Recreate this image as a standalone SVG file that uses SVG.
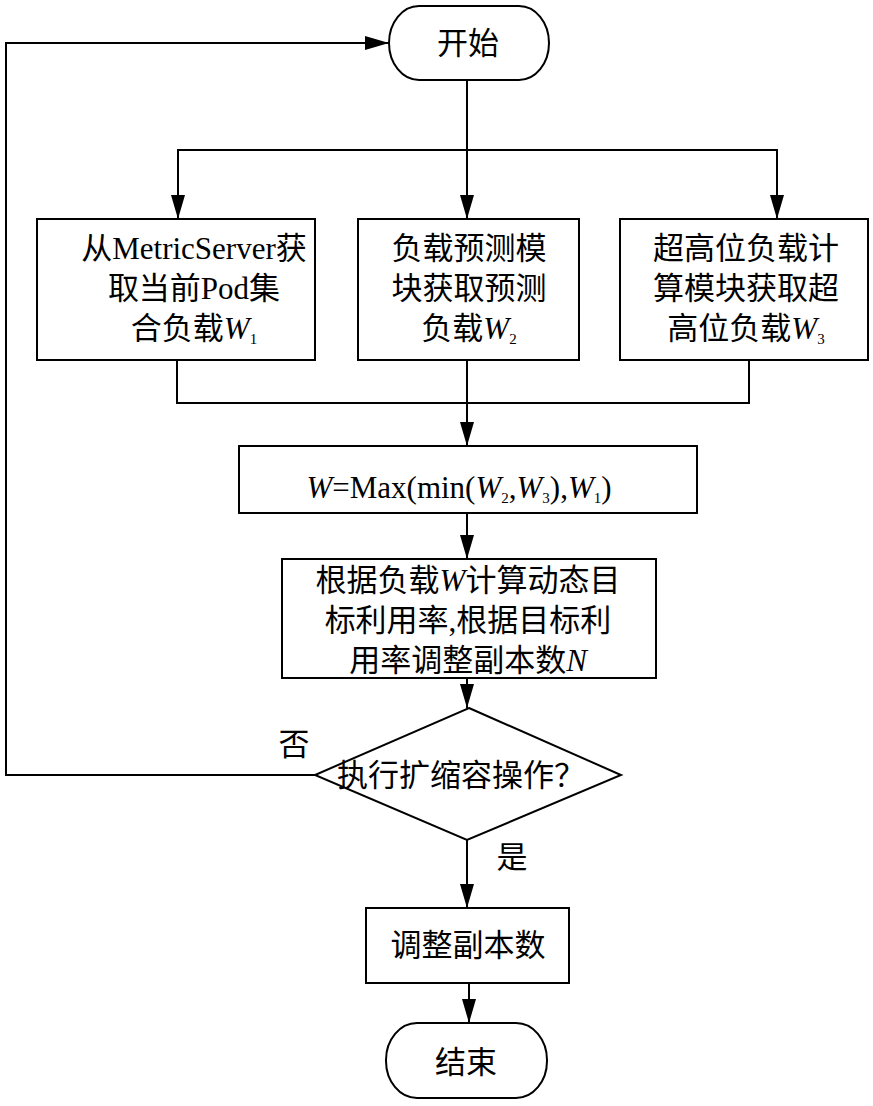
<svg xmlns="http://www.w3.org/2000/svg" width="873" height="1106" viewBox="0 0 873 1106">
<style>
.box{fill:#fff;stroke:#000;stroke-width:2}
.ln{fill:none;stroke:#000;stroke-width:2}
.t{font-family:'Liberation Serif','Noto Sans CJK SC',serif;font-size:31px;fill:#000;text-anchor:middle}
.s{font-family:'Noto Sans CJK SC','Liberation Sans',sans-serif;font-size:31px;fill:#000;text-anchor:middle}
.i{font-style:italic}
.sub{font-size:15px}
</style>
<defs>
<marker id="arr" markerUnits="userSpaceOnUse" markerWidth="24" markerHeight="14" refX="24" refY="7" orient="auto">
<path d="M0,0 L24,7 L0,14 z" fill="#000"/>
</marker>
</defs>
<g id="connectors">
<polyline class="ln" points="315,775 6,775 6,43 389,43" marker-end="url(#arr)"/>
<line class="ln" x1="467" y1="80" x2="467" y2="219" marker-end="url(#arr)"/>
<polyline class="ln" points="178,219 178,150 777,150 777,219" marker-end="url(#arr)"/>
<line class="ln" x1="178" y1="150" x2="178" y2="219" marker-end="url(#arr)"/>
<polyline class="ln" points="177,360 177,403 749,403 749,360"/>
<line class="ln" x1="467" y1="360" x2="467" y2="446" marker-end="url(#arr)"/>
<line class="ln" x1="467" y1="513" x2="467" y2="559" marker-end="url(#arr)"/>
<line class="ln" x1="467" y1="678" x2="467" y2="708" marker-end="url(#arr)"/>
<line class="ln" x1="467" y1="840" x2="467" y2="908" marker-end="url(#arr)"/>
<line class="ln" x1="469" y1="983" x2="469" y2="1023" marker-end="url(#arr)"/>
<text class="s" x="294" y="755">否</text>
<text class="s" x="512" y="868">是</text>
</g>
<g id="start">
<rect class="box" x="389" y="6" width="160" height="74" rx="30" ry="37"/>
<text class="s" x="468" y="54">开始</text>
</g>
<g id="box1">
<rect class="box" x="37" y="219" width="278" height="141"/>
<text class="t" x="194" y="259">从MetricServer获</text>
<text class="t" x="194" y="299">取当前Pod集</text>
<text class="t" x="194" y="339">合负载<tspan class="i">W</tspan><tspan class="sub" dy="5">1</tspan></text>
</g>
<g id="box2">
<rect class="box" x="358" y="219" width="221" height="141"/>
<text class="t" x="469" y="259">负载预测模</text>
<text class="t" x="469" y="299">块获取预测</text>
<text class="t" x="469" y="339">负载<tspan class="i">W</tspan><tspan class="sub" dy="5">2</tspan></text>
</g>
<g id="box3">
<rect class="box" x="620" y="219" width="248" height="141"/>
<text class="t" x="746" y="259">超高位负载计</text>
<text class="t" x="746" y="299">算模块获取超</text>
<text class="t" x="746" y="339">高位负载<tspan class="i">W</tspan><tspan class="sub" dy="5">3</tspan></text>
</g>
<g id="formula">
<rect class="box" x="239" y="446" width="458" height="67"/>
<text class="t" x="459" y="498"><tspan class="i">W</tspan>=Max(min(<tspan class="i">W</tspan><tspan class="sub" dy="5">2</tspan><tspan dy="-5">,</tspan><tspan class="i">W</tspan><tspan class="sub" dy="5">3</tspan><tspan dy="-5">),</tspan><tspan class="i">W</tspan><tspan class="sub" dy="5">1</tspan><tspan dy="-5">)</tspan></text>
</g>
<g id="compute">
<rect class="box" x="282" y="559" width="374" height="119"/>
<text class="t" x="468" y="591">根据负载<tspan class="i">W</tspan>计算动态目</text>
<text class="t" x="468" y="631">标利用率,根据目标利</text>
<text class="t" x="468" y="671">用率调整副本数<tspan class="i">N</tspan></text>
</g>
<g id="decision">
<polygon class="box" points="469,708 621,775 467,840 315,775"/>
<text class="s" x="461" y="786">执行扩缩容操作？</text>
</g>
<g id="adjust">
<rect class="box" x="366" y="908" width="203" height="75"/>
<text class="s" x="468" y="956">调整副本数</text>
</g>
<g id="end">
<rect class="box" x="386" y="1023" width="161" height="75" rx="31" ry="37"/>
<text class="s" x="466" y="1073">结束</text>
</g>
</svg>
